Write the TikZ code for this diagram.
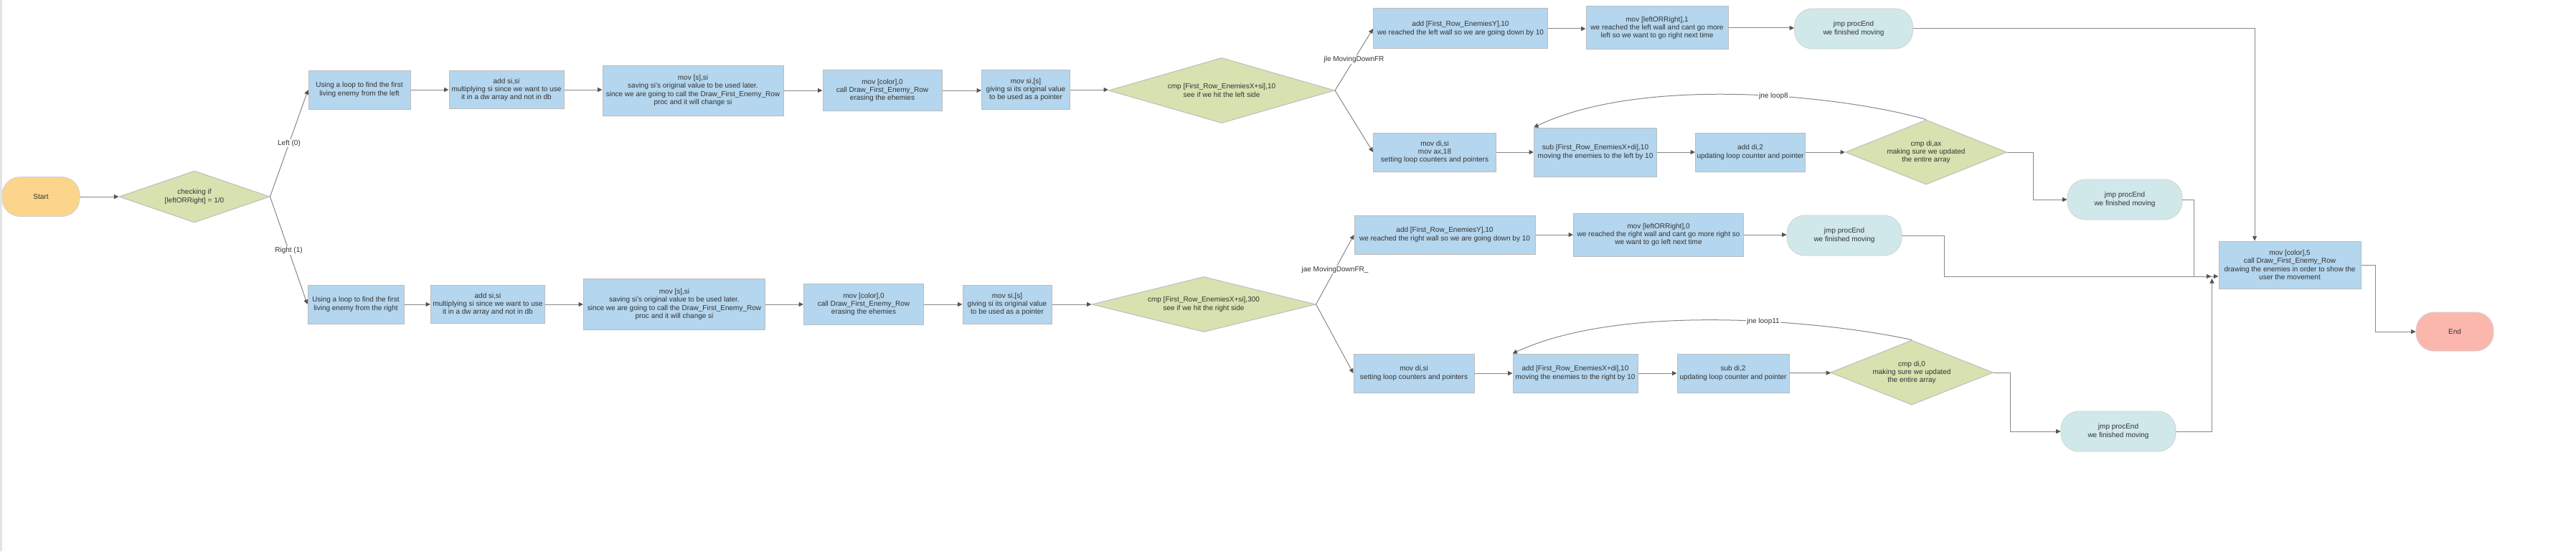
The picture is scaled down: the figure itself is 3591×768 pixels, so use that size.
\documentclass[tikz,border=0pt]{standalone}
\usepackage{fontspec}
\setmainfont{Liberation Sans}
\usetikzlibrary{shapes.geometric,arrows.meta,calc}
\definecolor{boxblue}{HTML}{B4D6EE}
\definecolor{decgreen}{HTML}{D7E2B0}
\definecolor{startyel}{HTML}{FBD58B}
\definecolor{jmpteal}{HTML}{D0E8EA}
\definecolor{endred}{HTML}{FBB7AE}
\definecolor{bordergray}{HTML}{BDBDBD}
\definecolor{linegray}{HTML}{888888}
\definecolor{arrowgray}{HTML}{555555}
\definecolor{txtgray}{HTML}{333333}
\definecolor{stripgray}{HTML}{E4E4E4}
\begin{document}
\begin{tikzpicture}[x=1pt,y=-1pt,
  font=\fontsize{10}{11.3}\selectfont, text=txtgray,
  box/.style={rectangle, draw=bordergray, line width=1pt, fill=boxblue, align=center, inner sep=0pt},
  dec/.style={diamond, shape aspect=3.2, draw=bordergray, line width=1pt, fill=decgreen, align=center, inner sep=0pt},
  term/.style={rectangle, rounded corners=25pt, draw=bordergray!70, line width=0.8pt, align=center, inner sep=0pt},
  jmpbox/.style={term, fill=jmpteal, minimum width=160pt, minimum height=56pt},
  conn/.style={draw=linegray, line width=1pt, -{Triangle[length=6.5pt,width=6pt,color=arrowgray]}},
  lbl/.style={fill=white, inner sep=1pt, text=txtgray}]
\useasboundingbox (0,0) rectangle (3591,768);
\fill[white] (0,0) rectangle (3591,768);
\fill[stripgray] (0,0) rectangle (3,768);

% left part
\node[term, fill=startyel, minimum width=108pt, minimum height=55pt] (start) at (57,274) {Start};
\node[dec, minimum width=210pt, minimum height=72pt] (chk) at (271,274) {checking if\\{[leftORRight] = 1/0}};

% top row
\node[box, minimum width=142pt, minimum height=54pt] (ul) at (501,125) {Using a loop to find the first\\living enemy from the left};
\node[box, minimum width=160pt, minimum height=53pt] (uadd) at (706,125) {add si,si\\multiplying si since we want to use\\it in a dw array and not in db};
\node[box, minimum width=252pt, minimum height=70pt] (umovs) at (966,126) {mov [s],si\\saving si's original value to be used later.\\since we are going to call the Draw\_First\_Enemy\_Row\\proc and it will change si};
\node[box, minimum width=166pt, minimum height=57pt] (ucolor) at (1230,126) {mov [color],0\\call Draw\_First\_Enemy\_Row\\erasing the ehemies};
\node[box, minimum width=123pt, minimum height=55pt] (usi) at (1430,125) {mov si,[s]\\giving si its original value\\to be used as a pointer};
\node[dec, minimum width=315pt, minimum height=91pt] (ucmp) at (1703,126) {cmp [First\_Row\_EnemiesX+si],10\\see if we hit the left side};

\node[box, minimum width=243pt, minimum height=56pt] (tadd) at (2036,40) {add [First\_Row\_EnemiesY],10\\we reached the left wall so we are going down by 10};
\node[box, minimum width=198pt, minimum height=60pt] (tmovlr) at (2310,39) {mov [leftORRight],1\\we reached the left wall and cant go more\\left so we want to go right next time};
\node[jmpbox, minimum width=165pt] (tjmp) at (2584,40) {jmp procEnd\\we finished moving};

\node[box, minimum width=171pt, minimum height=54pt] (lmovdi) at (2000,212) {mov di,si\\mov ax,18\\setting loop counters and pointers};
\node[box, minimum width=171pt, minimum height=68pt] (lsub) at (2224,212) {sub [First\_Row\_EnemiesX+di],10\\moving the enemies to the left by 10};
\node[box, minimum width=153pt, minimum height=54pt] (ladd) at (2440,212) {add di,2\\updating loop counter and pointer};
\node[dec, minimum width=225pt, minimum height=90pt] (lcmp) at (2685,212) {cmp di,ax\\making sure we updated\\the entire array};
\node[jmpbox] (ljmp) at (2962,278) {jmp procEnd\\we finished moving};

\node[box, minimum width=198pt, minimum height=66pt] (fin) at (3192,369) {mov [color],5\\call Draw\_First\_Enemy\_Row\\drawing the enemies in order to show the\\user the movement};
\node[term, fill=endred, minimum width=108pt, minimum height=54pt] (endn) at (3422,462) {End};

% bottom row
\node[box, minimum width=134pt, minimum height=54pt] (ur) at (496,424) {Using a loop to find the first\\living enemy from the right};
\node[box, minimum width=159pt, minimum height=53pt] (badd) at (680,424) {add si,si\\multiplying si since we want to use\\it in a dw array and not in db};
\node[box, minimum width=253pt, minimum height=71pt] (bmovs) at (940,424) {mov [s],si\\saving si's original value to be used later.\\since we are going to call the Draw\_First\_Enemy\_Row\\proc and it will change si};
\node[box, minimum width=167pt, minimum height=57pt] (bcolor) at (1204,424) {mov [color],0\\call Draw\_First\_Enemy\_Row\\erasing the ehemies};
\node[box, minimum width=124pt, minimum height=54pt] (bsi) at (1404,424) {mov si,[s]\\giving si its original value\\to be used as a pointer};
\node[dec, minimum width=312pt, minimum height=77pt] (bcmp) at (1678,424) {cmp [First\_Row\_EnemiesX+si],300\\see if we hit the right side};

\node[box, minimum width=252pt, minimum height=54pt] (radd) at (2014,327) {add [First\_Row\_EnemiesY],10\\we reached the right wall so we are going down by 10};
\node[box, minimum width=237pt, minimum height=60pt] (rmovlr) at (2312,327) {mov [leftORRight],0\\we reached the right wall and cant go more right so\\we want to go left next time};
\node[jmpbox] (rjmp) at (2571,328) {jmp procEnd\\we finished moving};

\node[box, minimum width=168pt, minimum height=54pt] (rmovdi) at (1971,520) {mov di,si\\setting loop counters and pointers};
\node[box, minimum width=174pt, minimum height=54pt] (radd2) at (2196,520) {add [First\_Row\_EnemiesX+di],10\\moving the enemies to the right by 10};
\node[box, minimum width=156pt, minimum height=54pt] (rsub) at (2416,520) {sub di,2\\updating loop counter and pointer};
\node[dec, minimum width=227pt, minimum height=90pt] (rcmp) at (2665,519) {cmp di,0\\making sure we updated\\the entire array};
\node[jmpbox] (rjmp2) at (2953,601) {jmp procEnd\\we finished moving};

% connectors
\draw[conn] (start) -- (chk);
\draw[conn] (chk.east) -- node[lbl] {Left (0)} (ul.west);
\draw[conn] (chk.east) -- node[lbl] {Right (1)} (ur.west);

\draw[conn] (ul) -- (uadd);
\draw[conn] (uadd) -- (uadd -| umovs.west);
\draw[conn] (umovs) -- (ucolor);
\draw[conn] (ucolor) -- (ucolor -| usi.west);
\draw[conn] (usi) -- (usi -| ucmp.west);
\draw[conn] (ucmp.east) -- node[lbl] {jle MovingDownFR} (tadd.west);
\draw[conn] (ucmp.east) -- (lmovdi.west);
\draw[conn] (tadd) -- (tadd -| tmovlr.west);
\draw[conn] (tmovlr) -- (tmovlr -| tjmp.west);
\draw[conn] (tjmp.east) -| ([xshift=-49pt]fin.north);
\draw[conn] (lmovdi) -- (lsub);
\draw[conn] (lsub) -- (ladd);
\draw[conn] (ladd) -- (lcmp);
\draw[conn] (lcmp.north) .. controls (2565,132) and (2290,105) .. node[lbl, pos=0.42] {jne loop8} (lsub.north west);
\draw[conn] (lcmp.east) -- ++(36,0) |- (ljmp.west);
\draw[conn] (ljmp.east) -- ++(16,0) |- ([yshift=-16pt]fin.west);

\draw[conn] (ur) -- (badd);
\draw[conn] (badd) -- (bmovs);
\draw[conn] (bmovs) -- (bcolor);
\draw[conn] (bcolor) -- (bsi);
\draw[conn] (bsi) -- (bcmp);
\draw[conn] (bcmp.east) -- node[lbl] {jae MovingDownFR\_} (radd.west);
\draw[conn] (bcmp.east) -- (rmovdi.west);
\draw[conn] (radd) -- (radd -| rmovlr.west);
\draw[conn] (rmovlr) -- (rmovlr -| rjmp.west);
\draw[conn] (rjmp.east) -- ++(59,0) |- ([xshift=-10pt,yshift=-16pt]fin.west);
\draw[conn] (rmovdi) -- (radd2);
\draw[conn] (radd2) -- (rsub);
\draw[conn] (rsub) -- (rcmp);
\draw[conn] (rcmp.north) .. controls (2560,450) and (2270,418) .. node[lbl, pos=0.42] {jne loop11} (radd2.north west);
\draw[conn] (rcmp.east) -- ++(23,0) |- (rjmp2.west);
\draw[conn] (rjmp2.east) -| ([xshift=-9pt,yshift=-19pt]fin.west);
\draw[conn] (fin.east) -- ++(20,0) |- (endn.west);
\end{tikzpicture}
\end{document}
